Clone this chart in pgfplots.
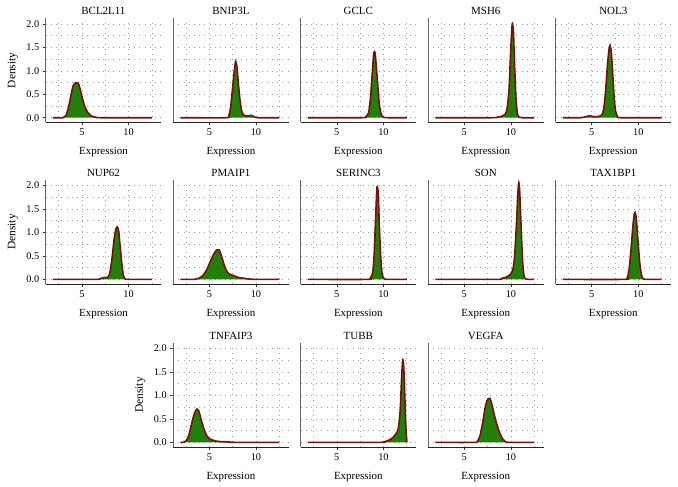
\documentclass[border=0pt]{standalone}
\usepackage{fontspec}
\setmainfont{Liberation Serif}
\usepackage{pgfplots}
\pgfplotsset{compat=1.18}
\definecolor{fillg}{RGB}{34,128,10}
\definecolor{edge}{RGB}{120,15,12}
\pgfplotsset{
 panel/.style={
  scale only axis, width=115.5bp, height=104bp,
  xmin=1.12, xmax=13.5, ymin=-0.098, ymax=2.12,
  axis x line*=bottom, axis y line*=left,
  x axis line style={black!85, line width=0.8bp},
  y axis line style={black!60, line width=0.8bp},
  xtick={5,10}, minor xtick={2.5,7.5,12.5},
  ytick={0,0.5,1,1.5,2}, minor ytick={0.25,0.75,1.25,1.75},
  grid=both,
  major grid style={gray!75, line width=0.6bp, dash pattern=on 0.6bp off 4.6bp},
  minor grid style={gray!75, line width=0.6bp, dash pattern=on 0.6bp off 4.6bp},
  minor tick length=0pt,
  major tick length=3bp,
  tick align=outside,
  tick style={black!80, line width=0.6bp},
  /pgf/number format/assume math mode=true,
  ticklabel style={font=\fontsize{10.3}{11}\selectfont},
  yticklabel style={/pgf/number format/.cd, fixed, fixed zerofill, precision=1},
  xlabel={Expression},
  every axis x label/.style={at={(axis description cs:0.5,0)}, anchor=base, yshift=-32.2bp, font=\fontsize{11}{12}\selectfont},
  every axis title/.style={at={(axis description cs:0.5,1)}, anchor=base, yshift=3.4bp, font=\fontsize{11}{12}\selectfont},
 },
 inner/.style={yticklabels={}, ytick style={draw=none}},
 outer/.style={ylabel={Density}, every axis y label/.style={at={(axis description cs:-0.285,0.5)}, rotate=90, anchor=center, font=\fontsize{11.5}{12}\selectfont}},
 dens/.style={fill=fillg, draw=edge, line width=1.6bp, smooth, tension=0.4},
}
\begin{document}
\begin{tikzpicture}
\useasboundingbox (0,0) rectangle (678bp,487bp);
% Row 1
\begin{axis}[panel, outer, title={BCL2L11}, at={(45.7bp,364.7bp)}, anchor=south west]
\addplot[dens] coordinates {(1.9,0)(3.0,0)(3.3,0.05)(3.6,0.25)(3.9,0.55)(4.1,0.70)(4.3,0.74)(4.6,0.74)(4.8,0.62)(5.0,0.45)(5.3,0.25)(5.6,0.12)(6.0,0.04)(6.5,0.01)(7,0)(12.5,0)};
\end{axis}
\begin{axis}[panel, inner, title={BNIP3L}, at={(173.15bp,364.7bp)}, anchor=south west]
\addplot[dens] coordinates {(1.9,0)(6.8,0)(7.1,0.05)(7.3,0.25)(7.5,0.65)(7.7,1.05)(7.82,1.2)(7.95,1.1)(8.1,0.75)(8.3,0.35)(8.5,0.12)(8.8,0.04)(9.2,0.04)(9.5,0.05)(9.8,0.02)(10.2,0)(12.5,0)};
\end{axis}
\begin{axis}[panel, inner, title={GCLC}, at={(300.6bp,364.7bp)}, anchor=south west]
\addplot[dens] coordinates {(1.9,0)(7.7,0)(8.1,0.02)(8.4,0.1)(8.6,0.4)(8.8,0.95)(8.95,1.35)(9.05,1.41)(9.15,1.3)(9.35,0.8)(9.55,0.3)(9.75,0.08)(10.0,0.01)(10.5,0)(12.5,0)};
\end{axis}
\begin{axis}[panel, inner, title={MSH6}, at={(428.05bp,364.7bp)}, anchor=south west]
\addplot[dens] coordinates {(1.9,0)(8.0,0)(8.5,0.01)(9.0,0.03)(9.4,0.08)(9.6,0.2)(9.8,0.6)(9.95,1.3)(10.1,1.9)(10.18,2.0)(10.28,1.8)(10.4,1.1)(10.55,0.4)(10.7,0.08)(10.9,0.01)(11.2,0)(12.5,0)};
\end{axis}
\begin{axis}[panel, inner, title={NOL3}, at={(555.5bp,364.7bp)}, anchor=south west]
\addplot[dens] coordinates {(1.9,0)(3.8,0)(4.3,0.02)(4.8,0.04)(5.3,0.02)(5.8,0.03)(6.1,0.06)(6.3,0.2)(6.5,0.6)(6.7,1.15)(6.85,1.45)(6.97,1.54)(7.1,1.4)(7.25,0.95)(7.4,0.45)(7.55,0.15)(7.75,0.03)(8.1,0)(12.5,0)};
\end{axis}
% Row 2
\begin{axis}[panel, outer, title={NUP62}, at={(45.7bp,203bp)}, anchor=south west]
\addplot[dens] coordinates {(1.9,0)(6.5,0)(7.0,0.02)(7.4,0.04)(7.7,0.04)(7.95,0.1)(8.2,0.4)(8.45,0.85)(8.65,1.08)(8.8,1.12)(8.95,1.02)(9.1,0.7)(9.3,0.3)(9.45,0.08)(9.65,0.01)(10,0)(12.5,0)};
\end{axis}
\begin{axis}[panel, inner, title={PMAIP1}, at={(173.15bp,203bp)}, anchor=south west]
\addplot[dens] coordinates {(1.9,0)(3.3,0)(3.8,0.02)(4.3,0.08)(4.7,0.2)(5.1,0.38)(5.5,0.55)(5.8,0.63)(6.05,0.63)(6.3,0.5)(6.6,0.3)(6.9,0.16)(7.2,0.11)(7.6,0.08)(8.0,0.05)(8.5,0.03)(9.2,0.01)(10,0)(12.5,0)};
\end{axis}
\begin{axis}[panel, inner, title={SERINC3}, at={(300.6bp,203bp)}, anchor=south west]
\addplot[dens] coordinates {(1.9,0)(8.3,0)(8.6,0.03)(8.85,0.15)(9.0,0.5)(9.15,1.25)(9.28,1.9)(9.35,1.98)(9.45,1.8)(9.55,1.2)(9.7,0.5)(9.85,0.12)(10.05,0.02)(10.4,0)(12.5,0)};
\end{axis}
\begin{axis}[panel, inner, title={SON}, at={(428.05bp,203bp)}, anchor=south west]
\addplot[dens] coordinates {(1.9,0)(8.5,0)(9.0,0.02)(9.5,0.05)(9.9,0.1)(10.2,0.2)(10.4,0.5)(10.6,1.2)(10.75,1.85)(10.85,2.06)(10.95,1.85)(11.1,1.1)(11.25,0.4)(11.4,0.08)(11.6,0.01)(12,0)(12.5,0)};
\end{axis}
\begin{axis}[panel, inner, title={TAX1BP1}, at={(555.5bp,203bp)}, anchor=south west]
\addplot[dens] coordinates {(1.9,0)(8.5,0)(8.8,0.03)(9.0,0.2)(9.2,0.6)(9.4,1.1)(9.55,1.38)(9.65,1.43)(9.78,1.3)(9.95,0.85)(10.15,0.35)(10.35,0.08)(10.55,0.01)(11,0)(12.5,0)};
\end{axis}
% Row 3
\begin{axis}[panel, outer, title={TNFAIP3}, at={(173.15bp,40bp)}, anchor=south west]
\addplot[dens] coordinates {(1.9,0)(2.2,0)(2.5,0.03)(2.8,0.15)(3.1,0.4)(3.4,0.62)(3.65,0.71)(3.85,0.68)(4.1,0.5)(4.4,0.3)(4.7,0.15)(5.0,0.08)(5.5,0.04)(6.0,0.02)(7.0,0.01)(8,0)(12.5,0)};
\end{axis}
\begin{axis}[panel, inner, title={TUBB}, at={(300.6bp,40bp)}, anchor=south west]
\addplot[dens] coordinates {(1.9,0)(9.5,0)(10.0,0.01)(10.5,0.04)(11.0,0.1)(11.4,0.2)(11.6,0.3)(11.8,0.7)(11.95,1.4)(12.05,1.72)(12.12,1.75)(12.2,1.5)(12.32,0.8)(12.42,0.25)(12.5,0.05)(12.5,0)};
\end{axis}
\begin{axis}[panel, inner, title={VEGFA}, at={(428.05bp,40bp)}, anchor=south west]
\addplot[dens] coordinates {(1.9,0)(6.0,0)(6.4,0.02)(6.7,0.15)(7.0,0.45)(7.3,0.8)(7.55,0.93)(7.75,0.94)(7.95,0.82)(8.2,0.6)(8.5,0.38)(8.8,0.2)(9.1,0.08)(9.4,0.02)(9.8,0)(12.5,0)};
\end{axis}
\end{tikzpicture}
\end{document}
